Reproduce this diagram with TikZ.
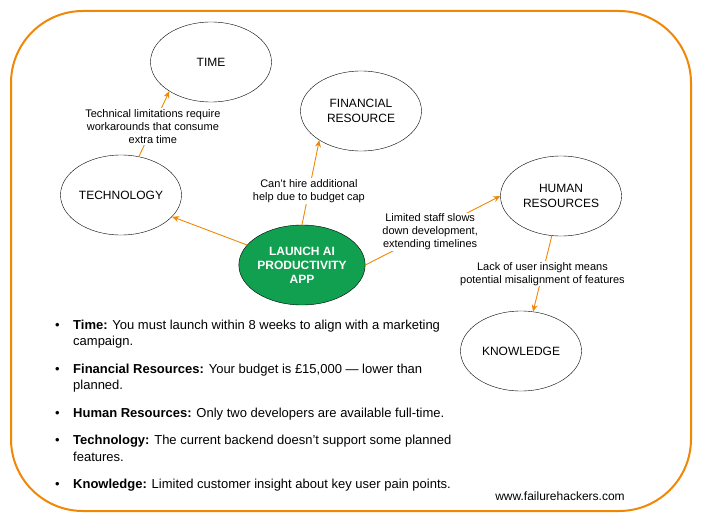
\documentclass[tikz,border=0pt]{standalone}
\usepackage{fontspec}
\setmainfont{Liberation Sans}
\usetikzlibrary{shapes.geometric,arrows.meta}
\definecolor{fhorange}{RGB}{240,135,5}
\definecolor{fhgreen}{RGB}{16,160,80}
\begin{document}
\begin{tikzpicture}[x=1pt,y=-1pt,
  topic/.style={ellipse, draw, minimum width=121pt, minimum height=80pt, inner sep=0pt, align=center, font=\fontsize{12}{14.5}\selectfont},
  goal/.style={topic, fill=fhgreen, text=white, font=\bfseries\fontsize{12}{14}\selectfont},
  link/.style={draw=fhorange, line width=0.9pt, -{Stealth[length=7pt,width=6pt]}},
  why/.style={fill=white, inner sep=1pt, align=center, font=\fontsize{11}{13}\selectfont}]
\useasboundingbox (0,0) rectangle (703,524);
\draw[fhorange, line width=2pt, rounded corners=72pt] (11,11) rectangle (691,511);
\node[topic] (time) at (211,62) {TIME};
\node[topic] (tech) at (121,195) {TECHNOLOGY};
\node[topic] (fin) at (361,111) {FINANCIAL\\RESOURCE};
\node[topic] (hum) at (561,196) {HUMAN\\RESOURCES};
\node[topic] (know) at (521,351) {KNOWLEDGE};
\node[goal] (app) at (302,265) {LAUNCH AI\\PRODUCTIVITY\\APP};
\draw[link] (app.160) -- (tech.337);
\draw[link] (app.north) -- node[why, pos=.4] (lblfin) {Can’t hire additional\\help due to budget cap} (fin.215);
\draw[link] (app.east) -- node[why, pos=.48] (lblhum) {Limited staff slows\\down development,\\extending timelines} (hum.west);
\draw[link] (tech.65) -- node[why, pos=.46] (lbltime) {Technical limitations require\\workarounds that consume\\extra time} (time.215);
\draw[link] (hum.257) -- node[why, pos=.5] (lblknow) {Lack of user insight means\\potential misalignment of features} (know.73);
\node[anchor=base west, inner sep=0pt, font=\fontsize{13}{16.5}\selectfont] (facts) at (55,329) {%
  \begin{tabular}[t]{@{}p{18pt}@{}l@{}}
  \textbullet & \textbf{Time:} You must launch within 8 weeks to align with a marketing\\
  & campaign.\\[11pt]
  \textbullet & \textbf{Financial Resources:} Your budget is £15,000 — lower than\\
  & planned.\\[11pt]
  \textbullet & \textbf{Human Resources:} Only two developers are available full-time.\\[11pt]
  \textbullet & \textbf{Technology:} The current backend doesn’t support some planned\\
  & features.\\[11pt]
  \textbullet & \textbf{Knowledge:} Limited customer insight about key user pain points.
  \end{tabular}};
\node[font=\fontsize{12}{14}\selectfont] (site) at (560,496) {www.failurehackers.com};
\end{tikzpicture}
\end{document}
